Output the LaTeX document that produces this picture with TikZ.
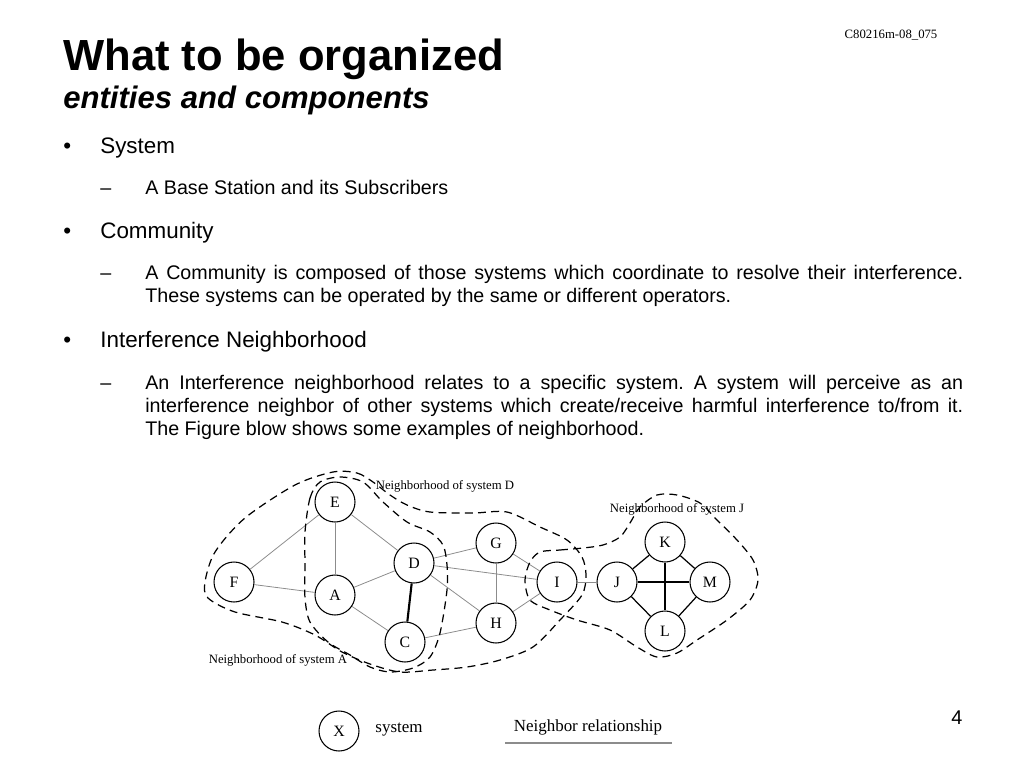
\documentclass[tikz,border=0pt]{standalone}
\usepackage{fontspec}
\setmainfont{Liberation Serif}
\setsansfont{Liberation Sans}
\usetikzlibrary{positioning}

\begin{document}
\begin{tikzpicture}[
  x=0.02cm, y=-0.02cm,
  every node/.style={inner sep=0pt},
  sys/.style={circle, draw, line width=0.6pt, minimum size=0.8cm, text height=1.45ex, text depth=0pt, font=\fontsize{9}{10}\selectfont},
  nb/.style={draw=black!45, line width=0.45pt},
  strong/.style={draw, line width=1.2pt},
  link/.style={draw, line width=0.7pt},
  hood/.style={line width=0.7pt, dash pattern=on 4.5pt off 3pt},
  hoodlabel/.style={font=\fontsize{7.25}{8.5}\selectfont},
  lvlone/.style={anchor=base west, font=\sffamily\fontsize{12.75}{15}\selectfont},
  lvltwo/.style={anchor=base west, font=\sffamily\fontsize{11.2}{13.3}\selectfont},
  para/.style={lvltwo, text width=16.36cm, align=justify, execute at begin node={\frenchspacing\hyphenpenalty=10000\exhyphenpenalty=10000}},
]
  \useasboundingbox (0,0) rectangle (1024,768);

  \node[anchor=base west, font=\sffamily\bfseries\fontsize{24.8}{30}\selectfont] (title) at (63,70) {What to be organized};
  \node[anchor=base west, font=\sffamily\bfseries\itshape\fontsize{17.7}{21}\selectfont] (subtitle) at (63,108) {entities and components};
  \node[font=\fontsize{7.25}{8.5}\selectfont] (code) at (891,35) {C80216m-08\_075};
  \node[font=\sffamily\fontsize{11.3}{13}\selectfont] (page) at (957,718) {4};

  \node[lvlone] (bul1) at (63,153) {•};
  \node[lvlone] (sys) at (100,153) {System};
  \node[lvltwo] (dash1) at (100,194) {–};
  \node[lvltwo] (sysdef) at (145,194) {A Base Station and its Subscribers};
  \node[lvlone] (bul2) at (63,238) {•};
  \node[lvlone] (com) at (100,238) {Community};
  \node[lvltwo] (dash2) at (100,279) {–};
  \node[para] (comdef) at (145,279) {A Community is composed of those systems which coordinate to resolve their interference.\linebreak These systems can be operated by the same or different operators.};
  \node[lvlone] (bul3) at (63,347) {•};
  \node[lvlone] (ngh) at (100,347) {Interference Neighborhood};
  \node[lvltwo] (dash3) at (100,389) {–};
  \node[para] (nghdef) at (145,389) {An Interference neighborhood relates to a specific system. A system will perceive as an\linebreak interference neighbor of other systems which create/receive harmful interference to/from it.\linebreak The Figure blow shows some examples of neighborhood.};

  \node[sys] (E) at (335,502) {E};
  \node[sys] (F) at (234,582) {F};
  \node[sys] (A) at (335,595) {A};
  \node[sys] (D) at (414,563) {D};
  \node[sys] (C) at (405,642) {C};
  \node[sys] (G) at (496,543) {G};
  \node[sys] (H) at (496,623) {H};
  \node[sys] (I) at (557,582) {I};
  \node[sys] (J) at (617,582) {J};
  \node[sys] (K) at (665,542) {K};
  \node[sys] (M) at (710,582) {M};
  \node[sys] (L) at (665,631) {L};

  \foreach \a/\b in {E/F,E/A,E/D,F/A,A/D,A/C,D/G,D/I,D/H,G/H,G/I,H/I,C/H,I/J}
    \draw[nb] (\a) -- (\b);
  \draw[strong] (D) -- (C);
  \foreach \a/\b in {J/K,J/M,J/L,K/L,K/M,L/M}
    \draw[link] (\a) -- (\b);

  \draw[hood] plot[smooth cycle] coordinates {(333,472) (357,473) (373,482) (390,495) (407,505) (430,512) (473,513) (507,512) (540,527) (567,540) (582,557) (586,575) (582,595) (560,620) (533,647) (500,660) (467,667) (433,670) (400,672) (370,664) (342,652) (315,635) (282,622) (235,612) (208,598) (205,582) (215,552) (245,518) (295,485)};
  \draw[hood] plot[smooth cycle] coordinates {(305,532) (310,498) (320,482) (340,477) (363,482) (383,502) (407,522) (430,532) (443,545) (447,565) (447,590) (440,633) (430,657) (413,668) (390,672) (370,667) (350,655) (328,642) (310,622) (305,598) (305,565)};
  \draw[hood] plot[smooth cycle] coordinates {(540,552) (560,550) (583,548) (603,545) (620,537) (630,523) (640,507) (657,495) (677,495) (700,503) (717,520) (737,540) (753,560) (758,580) (750,600) (727,620) (697,640) (677,653) (657,657) (637,647) (610,630) (577,620) (550,610) (530,600) (525,580) (530,562)};

  \node[hoodlabel] (labD) at (445,486) {Neighborhood of system D};
  \node[hoodlabel] (labJ) at (677,509) {Neighborhood of system J};
  \node[hoodlabel] (labA) at (278,660) {Neighborhood of system A};

  \node[sys] (X) at (339,731) {X};
  \node[font=\fontsize{9.65}{11}\selectfont] (legsys) at (399,730) {system};
  \node[font=\fontsize{9.65}{11}\selectfont] (legnb) at (588,727) {Neighbor relationship};
  \coordinate (nbl) at (505,743);
  \coordinate (nbr) at (672,743);
  \draw[nb, line width=0.7pt] (nbl) -- (nbr);
\end{tikzpicture}
\end{document}
